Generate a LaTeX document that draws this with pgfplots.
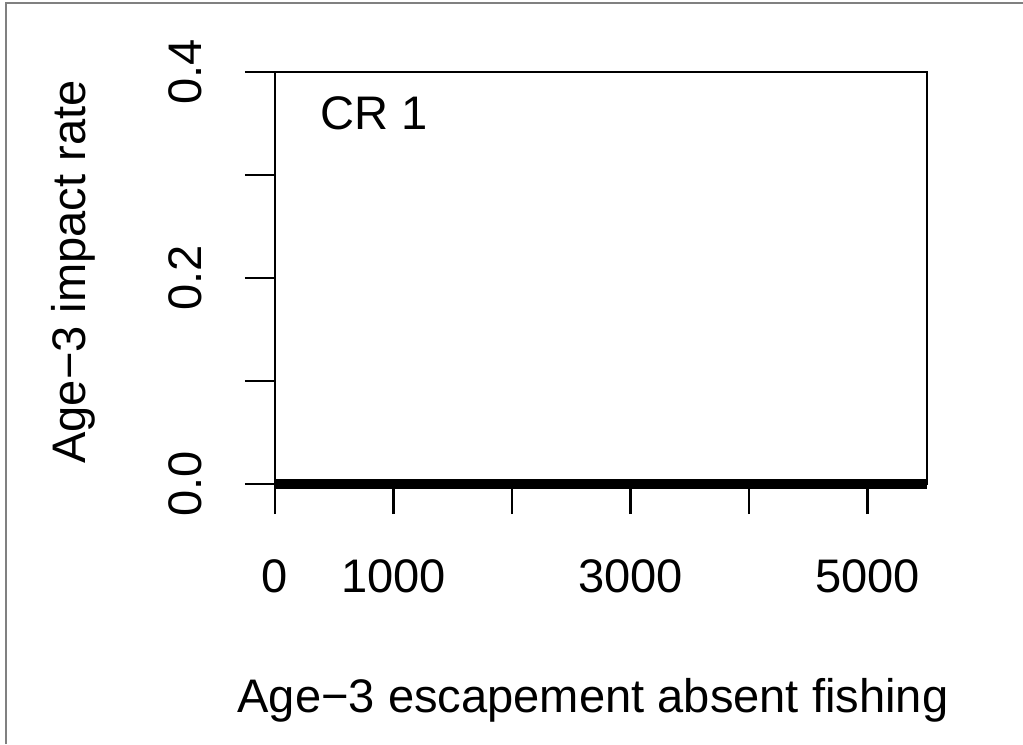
\documentclass[border=0pt]{standalone}
\usepackage{fontspec}
\setmainfont{Liberation Sans}
\usepackage{pgfplots}
\pgfplotsset{compat=1.18}

\begin{document}
\begin{tikzpicture}[x=1mm,y=1mm]
  % page frame (1 px = 0.1 mm)
  \useasboundingbox (0,0) rectangle (102.3,74.4);
  \draw[line width=0.2mm, color=black!50] (0.55,0) -- (0.55,74.15) -- (102.3,74.15);

  \begin{axis}[
      at={(27.5mm,26.0mm)}, anchor=south west,
      scale only axis,
      width=65.2mm, height=41.2mm,
      xmin=0, xmax=5500,
      ymin=0, ymax=0.4,
      font=\fontsize{13.4pt}{16pt}\selectfont,
      /pgf/number format/assume math mode=true,
      axis line style={line width=0.75pt},
      every tick/.style={black, line width=0.75pt},
      tick align=outside,
      xtick pos=left, ytick pos=left,
      major tick length=3mm,
      xtick={0,1000,2000,3000,4000,5000},
      xticklabels={0,1000,,3000,,5000},
      ytick={0,0.1,0.2,0.3,0.4},
      yticklabels={0.0,,0.2,,0.4},
      xticklabel style={anchor=base, yshift=-7.8mm},
      yticklabel style={anchor=base, xshift=-4.3mm, rotate=90},
      xlabel={Age−3 escapement absent fishing},
      ylabel={Age−3 impact rate},
      xlabel style={at={(axis description cs:0.4877,-0.5534)}, anchor=base},
      ylabel style={at={(axis description cs:-0.2914,0.5146)}, anchor=base},
      clip=false,
    ]
    \addplot[black, line width=3.1pt] coordinates {
      (0,0) (1000,0) (2000,0) (3000,0) (4000,0) (5000,0) (5500,0)
    };
    \node[anchor=base west, inner sep=0pt] at (axis cs:380,0.3437) {CR 1};
  \end{axis}
\end{tikzpicture}
\end{document}
